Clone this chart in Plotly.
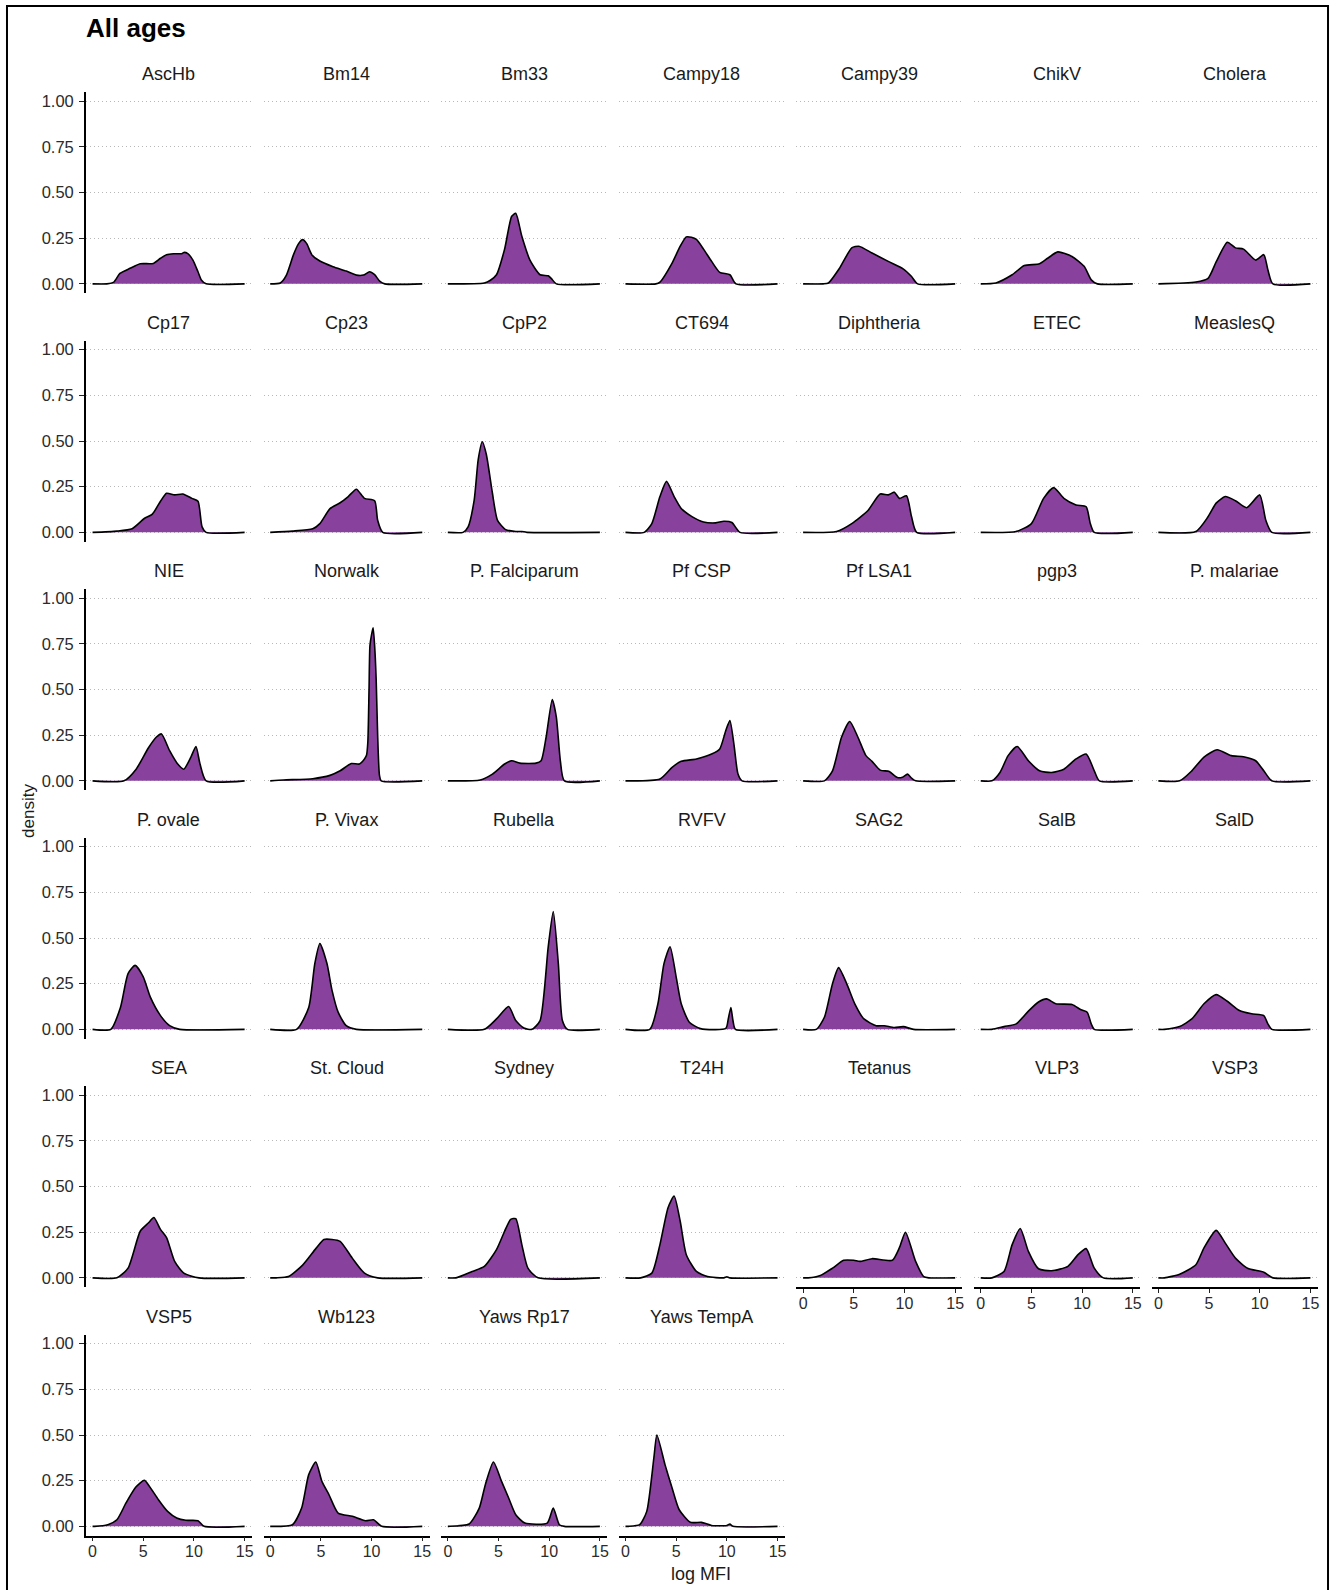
import plotly.graph_objects as go

# ---- density curves (log MFI vs density), one pair of arrays per antigen ----
ASCHB_X = [0, 1.4, 2.1, 2.7, 3.7, 4.7, 6.0, 6.7, 7.3, 8.0, 8.8, 9.0, 9.4, 9.9, 10.4, 10.75, 11.2, 15]
ASCHB_Y = [0, 0, 0.01, 0.057, 0.085, 0.11, 0.112, 0.14, 0.16, 0.165, 0.165, 0.172, 0.165, 0.13, 0.066, 0.02, 0, 0]
BM14_X = [0, 1.0, 1.6, 2.3, 2.8, 3.2, 3.6, 4.1, 4.9, 6.2, 7.5, 8.5, 9.2, 9.8, 10.3, 10.8, 11.3, 15]
BM14_Y = [0, 0.005, 0.048, 0.16, 0.22, 0.242, 0.22, 0.16, 0.125, 0.094, 0.07, 0.048, 0.048, 0.066, 0.05, 0.015, 0, 0]
BM33_X = [0, 3.6, 4.2, 4.8, 5.6, 6.3, 6.7, 7.3, 8.1, 9.1, 9.9, 10.2, 10.7, 15]
BM33_Y = [0, 0.005, 0.02, 0.05, 0.19, 0.37, 0.386, 0.26, 0.13, 0.05, 0.044, 0.03, 0, 0]
CAMPY18_X = [0, 3.0, 3.4, 4.6, 5.4, 6.0, 6.5, 7.0, 7.7, 8.5, 9.3, 10.3, 10.9, 15]
CAMPY18_Y = [0, 0, 0.01, 0.114, 0.206, 0.257, 0.255, 0.243, 0.19, 0.123, 0.063, 0.05, 0, 0]
CAMPY39_X = [0, 2.0, 2.5, 3.6, 4.8, 5.5, 6.8, 8.4, 9.9, 10.7, 11.3, 15]
CAMPY39_Y = [0, 0, 0.005, 0.086, 0.197, 0.206, 0.169, 0.123, 0.081, 0.04, 0, 0]
CHIKV_X = [0, 1.5, 3.1, 4.3, 5.8, 6.6, 7.6, 9.0, 10.2, 10.9, 11.5, 15]
CHIKV_Y = [0, 0.005, 0.05, 0.1, 0.11, 0.14, 0.175, 0.15, 0.096, 0.022, 0, 0]
CHOLERA_X = [0, 3.7, 4.9, 5.7, 6.8, 7.6, 8.4, 9.6, 10.4, 10.8, 11.3, 15]
CHOLERA_Y = [0, 0.01, 0.03, 0.12, 0.228, 0.197, 0.19, 0.13, 0.16, 0.077, 0, 0]

CP17_X = [0, 2.4, 3.9, 5.1, 5.9, 6.7, 7.3, 8.1, 8.9, 9.8, 10.4, 10.8, 11.2, 15]
CP17_Y = [0, 0.007, 0.02, 0.076, 0.10, 0.17, 0.214, 0.205, 0.21, 0.186, 0.17, 0.03, 0, 0]
CP23_X = [0, 2.2, 4.2, 4.9, 5.9, 6.9, 7.7, 8.5, 9.3, 10.3, 10.6, 11.1, 15]
CP23_Y = [0, 0.007, 0.02, 0.048, 0.13, 0.162, 0.196, 0.236, 0.186, 0.173, 0.066, 0, 0]
CPP2_X = [0, 1.5, 2.0, 2.6, 3.0, 3.4, 3.8, 4.4, 4.9, 5.7, 6.7, 7.3, 7.8, 15]
CPP2_Y = [0, 0, 0.03, 0.177, 0.40, 0.496, 0.426, 0.214, 0.066, 0.015, 0.005, 0.005, 0, 0]
CT694_X = [0, 1.85, 2.6, 3.4, 4.05, 4.8, 5.5, 6.6, 7.7, 8.9, 9.7, 10.5, 11.3, 15]
CT694_Y = [0, 0, 0.048, 0.196, 0.279, 0.196, 0.131, 0.085, 0.057, 0.052, 0.061, 0.054, 0, 0]
DIPHTHERIA_X = [0, 3.3, 4.8, 6.4, 7.6, 8.4, 9.0, 9.5, 10.2, 10.7, 11.2, 15]
DIPHTHERIA_Y = [0, 0.005, 0.048, 0.12, 0.21, 0.205, 0.22, 0.186, 0.20, 0.085, 0, 0]
ETEC_X = [0, 3.5, 5.0, 6.2, 7.2, 8.2, 9.4, 10.4, 10.8, 11.2, 15]
ETEC_Y = [0, 0.005, 0.048, 0.186, 0.245, 0.186, 0.15, 0.14, 0.05, 0, 0]
MEASLESQ_X = [0, 3.7, 4.9, 5.7, 6.6, 7.6, 8.7, 10.0, 10.6, 11.2, 15]
MEASLESQ_Y = [0, 0.005, 0.085, 0.16, 0.196, 0.173, 0.135, 0.205, 0.066, 0, 0]

NIE_X = [0, 3.1, 4.3, 5.5, 6.3, 6.8, 7.6, 8.4, 9.0, 9.7, 10.2, 10.6, 11.2, 15]
NIE_Y = [0, 0, 0.064, 0.18, 0.24, 0.257, 0.165, 0.092, 0.064, 0.13, 0.188, 0.092, 0, 0]
NORWALK_X = [0, 1.3, 4.2, 5.9, 6.9, 8.0, 8.8, 9.3, 9.5, 9.63, 9.75, 9.84, 10.0, 10.15, 10.3, 10.45, 10.6, 10.78, 10.95, 15]
NORWALK_Y = [0, 0.005, 0.012, 0.03, 0.055, 0.095, 0.092, 0.12, 0.14, 0.21, 0.5, 0.74, 0.8, 0.837, 0.74, 0.56, 0.25, 0.03, 0, 0]
PFALC_X = [0, 3.2, 4.4, 5.6, 6.3, 7.1, 8.7, 9.2, 9.7, 10.3, 10.7, 11.1, 11.5, 15]
PFALC_Y = [0, 0.005, 0.037, 0.092, 0.11, 0.097, 0.097, 0.11, 0.24, 0.445, 0.35, 0.11, 0, 0]
PFCSP_X = [0, 3.4, 4.6, 5.5, 7.0, 8.5, 9.3, 9.9, 10.3, 10.7, 11.1, 11.5, 15]
PFCSP_Y = [0, 0.01, 0.074, 0.107, 0.12, 0.147, 0.175, 0.276, 0.33, 0.20, 0.037, 0, 0]
PFLSA1_X = [0, 2.1, 2.9, 3.8, 4.6, 5.4, 6.2, 6.8, 7.6, 8.5, 9.3, 9.8, 10.3, 10.7, 11.1, 15]
PFLSA1_Y = [0, 0, 0.055, 0.24, 0.325, 0.24, 0.138, 0.107, 0.059, 0.051, 0.018, 0.02, 0.037, 0.015, 0, 0]
PGP3_X = [0, 1.1, 1.9, 2.7, 3.6, 4.7, 5.8, 7.0, 8.2, 9.4, 10.4, 11.2, 11.7, 15]
PGP3_Y = [0, 0, 0.046, 0.138, 0.188, 0.11, 0.055, 0.046, 0.064, 0.12, 0.147, 0.055, 0, 0]
PMAL_X = [0, 2.1, 3.3, 4.5, 5.8, 7.2, 8.4, 9.6, 10.4, 11.2, 15]
PMAL_Y = [0, 0, 0.055, 0.13, 0.17, 0.138, 0.132, 0.11, 0.055, 0, 0]

POVALE_X = [0, 1.8, 2.75, 3.5, 4.2, 5.0, 5.7, 6.7, 7.6, 8.6, 15]
POVALE_Y = [0, 0, 0.12, 0.305, 0.35, 0.287, 0.176, 0.075, 0.02, 0, 0]
PVIVAX_X = [0, 2.6, 3.8, 4.4, 4.9, 5.6, 6.1, 6.7, 7.5, 8.5, 15]
PVIVAX_Y = [0, 0, 0.12, 0.36, 0.47, 0.36, 0.213, 0.094, 0.02, 0, 0]
RUBELLA_X = [0, 3.6, 4.8, 6.0, 6.7, 7.5, 8.3, 9.1, 9.9, 10.4, 10.9, 11.3, 11.8, 15]
RUBELLA_Y = [0, 0, 0.057, 0.125, 0.048, 0.007, 0.0, 0.048, 0.45, 0.645, 0.36, 0.048, 0, 0]
RVFV_X = [0, 2.4, 3.2, 3.8, 4.4, 5.0, 5.5, 6.3, 7.4, 9.9, 10.15, 10.4, 10.6, 10.85, 15]
RVFV_Y = [0, 0, 0.14, 0.36, 0.452, 0.287, 0.14, 0.039, 0.004, 0.005, 0.06, 0.12, 0.05, 0, 0]
SAG2_X = [0, 1.3, 2.1, 2.9, 3.5, 4.3, 5.1, 6.0, 7.2, 8.0, 9.0, 9.9, 10.9, 15]
SAG2_Y = [0, 0, 0.066, 0.25, 0.338, 0.25, 0.14, 0.057, 0.02, 0.02, 0.01, 0.015, 0, 0]
SALB_X = [0, 1.1, 2.3, 3.5, 4.7, 5.7, 6.5, 7.4, 9.0, 9.9, 10.5, 10.9, 11.2, 15]
SALB_Y = [0, 0, 0.015, 0.03, 0.1, 0.15, 0.167, 0.14, 0.136, 0.107, 0.094, 0.03, 0, 0]
SALD_X = [0, 0.6, 2.1, 3.3, 4.5, 5.7, 6.8, 8.0, 9.2, 10.4, 10.8, 11.2, 15]
SALD_Y = [0, 0, 0.015, 0.057, 0.14, 0.19, 0.154, 0.103, 0.085, 0.075, 0.03, 0, 0]

SEA_X = [0, 2.4, 3.5, 4.7, 5.5, 6.05, 6.7, 7.3, 8.1, 9.0, 10.5, 15]
SEA_Y = [0, 0, 0.053, 0.255, 0.30, 0.33, 0.265, 0.22, 0.09, 0.026, 0, 0]
STCLOUD_X = [0, 0.6, 1.8, 3.2, 4.5, 5.3, 6.1, 6.9, 8.1, 9.3, 10.6, 15]
STCLOUD_Y = [0, 0, 0.007, 0.07, 0.16, 0.21, 0.21, 0.2, 0.108, 0.026, 0, 0]
SYDNEY_X = [0, 0.8, 2.4, 3.6, 4.8, 5.6, 6.2, 6.7, 7.3, 7.9, 8.9, 15]
SYDNEY_Y = [0, 0, 0.035, 0.063, 0.155, 0.255, 0.32, 0.324, 0.182, 0.053, 0, 0]
T24H_X = [0, 1.5, 2.6, 3.4, 4.2, 4.8, 5.4, 6.0, 7.0, 8.1, 9.7, 10.0, 10.3, 15]
T24H_Y = [0, 0, 0.026, 0.182, 0.384, 0.448, 0.31, 0.127, 0.035, 0.007, 0.0, 0.006, 0, 0]
TETANUS_X = [0, 0.5, 1.7, 2.9, 4.0, 5.0, 5.6, 6.8, 8.8, 9.5, 10.1, 11.1, 11.9, 12.4, 15]
TETANUS_Y = [0, 0, 0.013, 0.053, 0.096, 0.096, 0.09, 0.105, 0.096, 0.165, 0.25, 0.09, 0.007, 0, 0]
VLP3_X = [0, 1.1, 2.3, 3.1, 3.9, 4.7, 5.7, 7.0, 8.6, 9.6, 10.4, 11.2, 12.1, 15]
VLP3_Y = [0, 0, 0.035, 0.182, 0.27, 0.145, 0.05, 0.039, 0.063, 0.127, 0.16, 0.053, 0, 0]
VSP3_X = [0, 0.6, 2.1, 3.7, 4.5, 5.7, 6.6, 7.6, 8.8, 10.4, 11.3, 15]
VSP3_Y = [0, 0, 0.02, 0.072, 0.164, 0.26, 0.19, 0.108, 0.053, 0.031, 0, 0]

VSP5_X = [0, 0.2, 1.5, 2.4, 3.3, 4.25, 5.1, 5.6, 6.5, 7.4, 8.3, 9.2, 10.4, 11.0, 15]
VSP5_Y = [0, 0, 0.009, 0.036, 0.128, 0.214, 0.252, 0.22, 0.146, 0.082, 0.046, 0.033, 0.031, 0, 0]
WB123_X = [0, 0.15, 2.2, 3.1, 3.8, 4.5, 5.1, 5.8, 6.7, 8.1, 9.4, 10.2, 11.0, 15]
WB123_Y = [0, 0, 0.009, 0.1, 0.283, 0.352, 0.246, 0.173, 0.073, 0.055, 0.031, 0.036, 0, 0]
YAWSRP17_X = [0, 0.1, 2.1, 3.1, 3.7, 4.5, 5.3, 6.0, 6.7, 7.6, 9.8, 10.4, 11.0, 11.5, 15]
YAWSRP17_Y = [0, 0, 0.013, 0.1, 0.228, 0.352, 0.246, 0.155, 0.064, 0.018, 0.018, 0.1, 0.009, 0, 0]
YAWSTEMPA_X = [0, 0.3, 1.4, 2.1, 2.8, 3.1, 3.9, 4.6, 5.3, 6.4, 7.5, 8.5, 10.0, 10.3, 10.6, 15]
YAWSTEMPA_Y = [0, 0, 0.009, 0.082, 0.374, 0.50, 0.338, 0.21, 0.091, 0.022, 0.022, 0.005, 0.005, 0.013, 0, 0]

PANELS = [
    ("AscHb", ASCHB_X, ASCHB_Y), ("Bm14", BM14_X, BM14_Y), ("Bm33", BM33_X, BM33_Y),
    ("Campy18", CAMPY18_X, CAMPY18_Y), ("Campy39", CAMPY39_X, CAMPY39_Y),
    ("ChikV", CHIKV_X, CHIKV_Y), ("Cholera", CHOLERA_X, CHOLERA_Y),
    ("Cp17", CP17_X, CP17_Y), ("Cp23", CP23_X, CP23_Y), ("CpP2", CPP2_X, CPP2_Y),
    ("CT694", CT694_X, CT694_Y), ("Diphtheria", DIPHTHERIA_X, DIPHTHERIA_Y),
    ("ETEC", ETEC_X, ETEC_Y), ("MeaslesQ", MEASLESQ_X, MEASLESQ_Y),
    ("NIE", NIE_X, NIE_Y), ("Norwalk", NORWALK_X, NORWALK_Y),
    ("P. Falciparum", PFALC_X, PFALC_Y), ("Pf CSP", PFCSP_X, PFCSP_Y),
    ("Pf LSA1", PFLSA1_X, PFLSA1_Y), ("pgp3", PGP3_X, PGP3_Y), ("P. malariae", PMAL_X, PMAL_Y),
    ("P. ovale", POVALE_X, POVALE_Y), ("P. Vivax", PVIVAX_X, PVIVAX_Y),
    ("Rubella", RUBELLA_X, RUBELLA_Y), ("RVFV", RVFV_X, RVFV_Y), ("SAG2", SAG2_X, SAG2_Y),
    ("SalB", SALB_X, SALB_Y), ("SalD", SALD_X, SALD_Y),
    ("SEA", SEA_X, SEA_Y), ("St. Cloud", STCLOUD_X, STCLOUD_Y), ("Sydney", SYDNEY_X, SYDNEY_Y),
    ("T24H", T24H_X, T24H_Y), ("Tetanus", TETANUS_X, TETANUS_Y), ("VLP3", VLP3_X, VLP3_Y),
    ("VSP3", VSP3_X, VSP3_Y),
    ("VSP5", VSP5_X, VSP5_Y), ("Wb123", WB123_X, WB123_Y),
    ("Yaws Rp17", YAWSRP17_X, YAWSRP17_Y), ("Yaws TempA", YAWSTEMPA_X, YAWSTEMPA_Y),
]

Y_TICKS = [0, 0.25, 0.5, 0.75, 1.0]
Y_TICKTEXT = ["0.00", "0.25", "0.50", "0.75", "1.00"]
X_TICKS = [0, 5, 10, 15]

# ---- page geometry (pixels) ----
W, H = 1338, 1590
NCOL, NROW = 7, 6
LEFT0, COL_STEP, PANEL_W = 86.0, 177.9, 166.3
TOP0, ROW_STEP, PANEL_H = 92.0, 248.5, 201.0
FONT = "Liberation Sans, Arial, Helvetica, sans-serif"
FILL = "#88419d"


def fx(p):
    return p / W


def fy(p):
    return 1 - p / H


fig = go.Figure()
layout = {}
annotations = []
n = len(PANELS)

for k, (name, xs, ys) in enumerate(PANELS):
    row, col = divmod(k, NCOL)
    idx = k + 1
    xa = "xaxis" if idx == 1 else f"xaxis{idx}"
    ya = "yaxis" if idx == 1 else f"yaxis{idx}"
    xref = "x" if idx == 1 else f"x{idx}"
    yref = "y" if idx == 1 else f"y{idx}"

    left = LEFT0 + COL_STEP * col
    top = TOP0 + ROW_STEP * row
    bottom_axis = (k + NCOL) >= n

    layout[xa] = dict(
        domain=[fx(left), fx(left + PANEL_W)], anchor=yref,
        range=[-0.66, 15.72], showgrid=False, zeroline=False,
        showline=bottom_axis, linecolor="black", linewidth=1.5,
        ticks="outside" if bottom_axis else "", ticklen=4, tickwidth=1.3, tickcolor="#222222",
        ticklabelstandoff=-3,
        tickvals=X_TICKS, showticklabels=bottom_axis,
        tickfont=dict(family=FONT, size=16, color="#2b2b2b"),
        fixedrange=True,
    )
    first_col = col == 0
    layout[ya] = dict(
        domain=[fy(top + PANEL_H), fy(top)], anchor=xref,
        range=[-0.05, 1.05], showgrid=True, gridcolor="#b8b8b8", gridwidth=1, griddash="1px,3px",
        zeroline=False, tickvals=Y_TICKS, ticktext=Y_TICKTEXT,
        showline=first_col, linecolor="black", linewidth=1.5,
        ticks="outside" if first_col else "", ticklen=5, tickwidth=1.3, tickcolor="#222222",
        ticklabelstandoff=2,
        showticklabels=first_col,
        tickfont=dict(family=FONT, size=16.5, color="#2b2b2b"),
        fixedrange=True,
    )

    fig.add_trace(go.Scatter(
        x=xs, y=ys, xaxis=xref, yaxis=yref, mode="lines",
        line=dict(color="black", width=1.6, shape="spline", smoothing=0.6),
        fill="tozeroy", fillcolor=FILL, showlegend=False, hoverinfo="skip",
    ))

    # facet strip label
    annotations.append(dict(
        text=name, x=fx(left + PANEL_W / 2), y=fy(top - 18), xref="paper", yref="paper",
        xanchor="center", yanchor="middle", showarrow=False,
        font=dict(family=FONT, size=18, color="#1a1a1a"),
    ))

annotations += [
    dict(text="<b>All ages</b>", x=fx(84), y=fy(28), xref="paper", yref="paper",
         xanchor="left", yanchor="middle", showarrow=False,
         font=dict(family=FONT, size=26, color="black")),
    dict(text="log MFI", x=fx(702), y=fy(1574), xref="paper", yref="paper",
         xanchor="center", yanchor="middle", showarrow=False,
         font=dict(family=FONT, size=18, color="#1a1a1a")),
    dict(text="density", x=fx(28), y=fy(811), xref="paper", yref="paper",
         xanchor="center", yanchor="middle", showarrow=False, textangle=-90,
         font=dict(family=FONT, size=17, color="#1a1a1a")),
]

fig.update_layout(
    width=W, height=H, margin=dict(l=0, r=0, t=0, b=0),
    paper_bgcolor="white", plot_bgcolor="white",
    annotations=annotations,
    shapes=[dict(type="rect", xref="paper", yref="paper",
                 x0=fx(7), x1=fx(1330), y0=fy(1620), y1=fy(6),
                 line=dict(color="black", width=2), layer="above")],
    **layout,
)

fig.write_html("out.html")
